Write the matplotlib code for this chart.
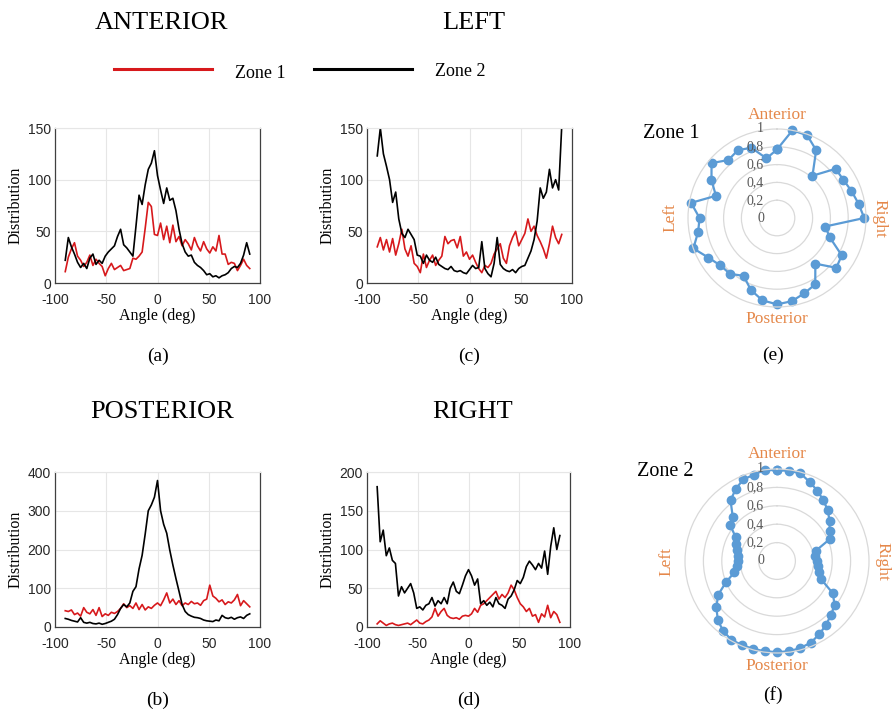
import numpy as np
import matplotlib
matplotlib.use('Agg')
import matplotlib.pyplot as plt
from matplotlib.lines import Line2D
import matplotlib.transforms as mtransforms

plt.rcParams['axes.unicode_minus'] = False

# angle axis of the distribution plots (deg)
angle = list(range(-90, 91, 3))

# ANTERIOR
ant_z1 = [11, 25, 33, 39, 26, 22, 16, 20, 27, 17,
          23, 19, 16, 7, 14, 19, 13, 15, 17, 12,
          13, 14, 24, 23, 26, 30, 53, 78, 74, 47,
          46, 58, 42, 55, 39, 56, 40, 45, 36, 42,
          38, 32, 44, 36, 31, 40, 33, 29, 35, 31,
          46, 28, 28, 18, 20, 19, 12, 17, 23, 17,
          14]
ant_z2 = [22, 44, 35, 28, 20, 15, 19, 14, 24, 28,
          18, 22, 19, 26, 30, 33, 36, 45, 52, 37,
          34, 30, 26, 55, 85, 76, 95, 110, 116, 128,
          104, 90, 77, 92, 80, 82, 70, 52, 38, 30,
          26, 27, 20, 17, 15, 12, 8, 9, 6, 7,
          5, 7, 8, 10, 14, 16, 15, 19, 27, 39,
          28]

# LEFT
left_z1 = [35, 44, 32, 42, 30, 43, 27, 38, 52, 33,
           26, 36, 19, 16, 10, 28, 15, 22, 27, 17,
           22, 26, 45, 38, 41, 42, 34, 45, 26, 30,
           23, 27, 20, 14, 10, 17, 15, 19, 28, 33,
           38, 24, 19, 36, 44, 50, 36, 42, 48, 62,
           50, 55, 46, 40, 33, 24, 38, 55, 44, 38,
           47]
left_z2 = [123, 150, 125, 113, 100, 78, 88, 62, 48, 44,
           52, 47, 42, 27, 26, 19, 27, 22, 20, 25,
           18, 16, 14, 13, 16, 12, 11, 12, 10, 9,
           13, 17, 14, 15, 40, 14, 9, 6, 19, 44,
           18, 14, 12, 11, 13, 10, 14, 16, 17, 24,
           31, 42, 60, 92, 82, 88, 110, 92, 100, 90,
           152]

# POSTERIOR
post_z1 = [42, 40, 44, 32, 36, 28, 50, 38, 34, 45,
           30, 50, 27, 34, 30, 38, 35, 40, 48, 60,
           50, 55, 48, 62, 45, 58, 44, 52, 48, 56,
           62, 55, 70, 88, 62, 72, 58, 68, 55, 62,
           58, 66, 60, 62, 56, 68, 72, 108, 80, 74,
           65, 70, 58, 65, 62, 70, 84, 55, 68, 60,
           52]
post_z2 = [22, 20, 17, 15, 13, 24, 12, 10, 12, 9,
           8, 10, 7, 9, 12, 15, 20, 32, 48, 58,
           52, 62, 92, 104, 150, 185, 240, 300, 315, 335,
           378, 300, 265, 242, 198, 160, 125, 92, 58, 40,
           32, 28, 25, 24, 22, 18, 16, 15, 14, 18,
           16, 30, 24, 22, 25, 20, 24, 26, 22, 30,
           34]

# RIGHT
right_z1 = [4, 8, 5, 2, 4, 5, 3, 2, 3, 4,
            5, 3, 6, 9, 5, 4, 7, 9, 13, 24,
            14, 20, 24, 15, 12, 11, 12, 10, 14, 15,
            14, 17, 24, 19, 28, 30, 34, 38, 42, 46,
            36, 42, 38, 44, 54, 48, 38, 30, 26, 20,
            24, 14, 16, 6, 17, 13, 28, 12, 20, 16,
            6]
right_z2 = [181, 110, 125, 92, 102, 86, 82, 40, 52, 44,
            50, 56, 44, 24, 26, 22, 28, 30, 38, 27,
            34, 30, 38, 30, 50, 58, 46, 43, 54, 66,
            74, 66, 54, 62, 30, 34, 28, 32, 26, 38,
            30, 28, 24, 36, 40, 48, 60, 56, 64, 78,
            85, 80, 74, 82, 76, 98, 68, 104, 128, 100,
            118]

# radar plots (normalised), angle measured clockwise from anterior
polar1_deg = list(range(0, 360, 10))
polar1_r = [0.77, 1.0, 0.99, 0.88, 0.62, 0.86, 0.86, 0.89, 0.93, 0.98,
            0.55, 0.63, 0.84, 0.87, 0.67, 0.86, 0.90, 0.95, 0.97, 0.94,
            0.86, 0.75, 0.82, 0.83, 0.89, 1.0, 0.90, 0.87, 0.98, 0.73,
            0.85, 0.96, 0.85, 0.88, 0.84, 0.68]
polar2_deg = list(np.arange(0, 360, 7.5))
polar2_r = [0.985, 0.99, 0.985, 0.93, 0.88, 0.83, 0.78, 0.72, 0.66, 0.62,
            0.44, 0.42, 0.44, 0.45, 0.47, 0.52, 0.70, 0.79, 0.83, 0.875,
            0.92, 0.96, 0.98, 0.99, 0.99, 0.99, 0.99, 0.99, 0.99, 0.96,
            0.91, 0.83, 0.74, 0.60, 0.48, 0.44, 0.42, 0.43, 0.45, 0.48,
            0.52, 0.64, 0.68, 0.83, 0.90, 0.96, 0.97, 1.0]
rticks = [0, 0.2, 0.4, 0.6, 0.8, 1]
rtick_labels = ['0', '0,2', '0,4', '0,6', '0,8', '1']

W, H = 893, 712
fig = plt.figure(figsize=(W / 100, H / 100), dpi=100)

SERIF = 'Liberation Serif'
SANS = 'Liberation Sans'
RED = '#d7191c'
ORANGE = '#e5884a'
BLUE = '#5b9bd5'


def px_axes(x0, y0, x1, y1, **kw):
    return fig.add_axes([x0 / W, 1 - y1 / H, (x1 - x0) / W, (y1 - y0) / H], **kw)


def dist_plot(box, z1, z2, ymax, ystep, title, title_y, caption):
    ax = px_axes(*box)
    ax.plot(angle, z1, color=RED, lw=1.2)
    ax.plot(angle, z2, color='black', lw=1.2)
    ax.set_xlim(-100, 100)
    ax.set_ylim(0, ymax)
    ax.set_xticks([-100, -50, 0, 50, 100])
    ax.set_yticks(np.arange(0, ymax + 1, ystep))
    ax.grid(True, color='#e6e6e6', lw=0.8)
    ax.set_axisbelow(True)
    for s in ['left', 'bottom', 'right']:
        ax.spines[s].set_color('#404040')
        ax.spines[s].set_linewidth(0.9)
    ax.spines['top'].set_color('#e6e6e6')
    ax.tick_params(direction='in', length=0, labelsize=10, colors='#262626')
    ax.tick_params(axis='x', pad=7)
    ax.tick_params(axis='y', pad=3)
    for lab in ax.get_xticklabels() + ax.get_yticklabels():
        lab.set_fontfamily(SANS)
    ax.set_xlabel('Angle (deg)', fontfamily=SERIF, fontsize=11.5, labelpad=1)
    ax.set_ylabel('Distribution', fontfamily=SERIF, fontsize=11.5, labelpad=3)
    cx = (box[0] + box[2]) / 2 / W
    fig.text(cx + 0.005, 1 - title_y / H, title, ha='center', va='center',
             fontfamily=SERIF, fontsize=19)
    fig.text(cx, 1 - (box[3] + 73) / H, caption, ha='center', va='center',
             fontfamily=SERIF, fontsize=14)
    return ax


dist_plot((55, 128, 260, 283), ant_z1, ant_z2, 150, 50, 'ANTERIOR', 23, '(a)')
dist_plot((367, 128, 572, 283), left_z1, left_z2, 150, 50, 'LEFT', 23, '(c)')
dist_plot((55, 472, 260, 627), post_z1, post_z2, 400, 100, 'POSTERIOR', 412, '(b)')
dist_plot((367, 472, 570, 627), right_z1, right_z2, 200, 50, 'RIGHT', 412, '(d)')

# legend drawn in figure space
fig.add_artist(Line2D([114 / W, 212 / W], [1 - 69 / H, 1 - 69 / H], color=RED, lw=2.2))
fig.add_artist(Line2D([314 / W, 412 / W], [1 - 69 / H, 1 - 69 / H], color='black', lw=2.2))
fig.text(235 / W, 1 - 74 / H, 'Zone 1', ha='left', va='center', fontfamily=SERIF, fontsize=13)
fig.text(435 / W, 1 - 71 / H, 'Zone 2', ha='left', va='center', fontfamily=SERIF, fontsize=13)


def radar(cx, cy, R, degs, rs, zone, zone_dx, zone_dy, caption_y, caption):
    ax = px_axes(cx - R, cy - R, cx + R, cy + R, projection='polar')
    ax.set_theta_zero_location('N')
    ax.set_theta_direction(-1)
    th = np.deg2rad(degs + [degs[0]])
    rr = rs + [rs[0]]
    ax.plot(th, rr, color=BLUE, lw=1.6, marker='o', ms=6, clip_on=False)
    ax.set_ylim(0, 1)
    ax.set_xticks([])
    ax.set_yticks([0.2, 0.4, 0.6, 0.8])
    ax.set_yticklabels([])
    ax.yaxis.grid(True, color='#d9d9d9', lw=0.9)
    ax.xaxis.grid(False)
    ax.spines['polar'].set_color('#d9d9d9')
    ax.spines['polar'].set_linewidth(0.9)
    ax.patch.set_alpha(0)
    off = mtransforms.offset_copy(ax.transData, fig=fig, x=-13, y=0, units='dots')
    for r, lab in zip(rticks, rtick_labels):
        ax.text(0, r, lab, transform=off, ha='right', va='center',
                fontfamily=SERIF, fontsize=10, color='#595959')
    kw = dict(fontfamily=SERIF, fontsize=12.5, color=ORANGE, ha='center', va='center')
    ax.text(0, 1.16, 'Anterior', **kw)
    ax.text(np.pi / 2, 1.15, 'Right', rotation=270, **kw)
    ax.text(np.pi, 1.14, 'Posterior', **kw)
    ax.text(3 * np.pi / 2, 1.2, 'Left', rotation=90, **kw)
    fig.text((cx + zone_dx) / W, 1 - (cy + zone_dy) / H, zone, ha='left', va='center',
             fontfamily=SERIF, fontsize=14.5)
    fig.text((cx - 4) / W, 1 - caption_y / H, caption,
             ha='center', va='center', fontfamily=SERIF, fontsize=14)


radar(777, 218, 89, polar1_deg, polar1_r, 'Zone 1', -134, -85, 355, '(e)')
radar(777, 561, 92, polar2_deg, polar2_r, 'Zone 2', -140, -89, 695, '(f)')

fig.savefig('out.png', dpi=100)
